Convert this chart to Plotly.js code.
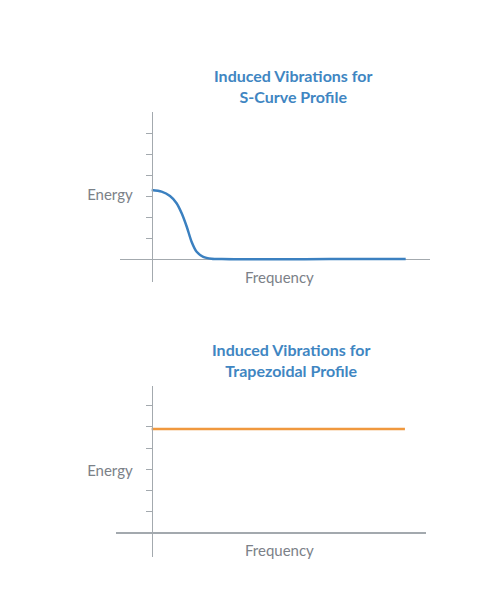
<!DOCTYPE html>
<html>
<head>
<meta charset="utf-8">
<script src="https://cdn.plot.ly/plotly-3.0.1.min.js"></script>
<style>
  html, body { margin: 0; padding: 0; background: #fff; }
  #chart { width: 500px; height: 595px; }
</style>
</head>
<body>
<div id="chart"></div>
<script>
// values
const sCurveFreq = [0, 0.39, 0.72, 0.98, 1.18, 1.38, 1.57, 1.77, 2.03, 2.36, 2.76, 3.5, 5, 7, 9, 10];
const sCurveEnergy = [3.30, 3.22, 3.01, 2.67, 2.19, 1.55, 0.84, 0.36, 0.12, 0.03, 0.01, 0, 0, 0.01, 0.02, 0.02];
const trapFreq = [0, 10];
const trapEnergy = [4.9, 4.9];
const energyTicks = [1, 2, 3, 4, 5, 6];
const energyLabels = ["", "", "Energy", "", "", ""];
const titles = ["Induced Vibrations for<br>S-Curve Profile", "Induced Vibrations for<br>Trapezoidal Profile"];

const W = 500, H = 595;
const px = v => v / W;
const py = v => 1 - v / H;

const axisGrey = "#a3a9ae";
const textGrey = "#7b8188";
const titleBlue = "#3f86c2";
const font = "Lato, 'Open Sans', sans-serif";

function yAxis(domain, range, shift) {
    return {
        domain: domain,
        range: range,
        anchor: "free",
        position: px(151.7),
        showline: true,
        linecolor: axisGrey,
        linewidth: 1.5,
        ticks: "outside",
        ticklen: 6,
        tickwidth: 1,
        tickcolor: axisGrey,
        tickvals: energyTicks,
        ticktext: energyLabels,
        tickfont: { family: font, size: 15, color: textGrey },
        ticklabelstandoff: 10,
        ticklabelshift: shift,
        showgrid: false,
        zeroline: true,
        zerolinecolor: axisGrey,
        zerolinewidth: 1.5,
        fixedrange: true
    };
}

function xAxis(domain, range, yname) {
    return {
        domain: domain,
        range: range,
        anchor: yname,
        showline: false,
        showgrid: false,
        zeroline: false,
        showticklabels: false,
        ticks: "",
        fixedrange: true
    };
}

const traces = [
    {
        x: sCurveFreq,
        y: sCurveEnergy,
        type: "scatter",
        mode: "lines",
        line: { color: "#3b80c0", width: 2.5, shape: "spline", smoothing: 0.8 },
        xaxis: "x",
        yaxis: "y",
        hoverinfo: "skip"
    },
    {
        x: trapFreq,
        y: trapEnergy,
        type: "scatter",
        mode: "lines",
        line: { color: "#f0983e", width: 2.5 },
        xaxis: "x2",
        yaxis: "y2",
        hoverinfo: "skip"
    }
];

function label(text, x, y, size, color, bold) {
    return {
        text: bold ? "<b>" + text + "</b>" : text,
        xref: "paper", yref: "paper",
        x: px(x), y: py(y),
        xanchor: "center", yanchor: "middle",
        showarrow: false,
        align: "center",
        font: { family: font, size: size, color: color }
    };
}

const layout = {
    width: W,
    height: H,
    margin: { l: 0, r: 0, t: 0, b: 0 },
    paper_bgcolor: "#fff",
    plot_bgcolor: "rgba(0,0,0,0)",
    showlegend: false,
    xaxis: xAxis([px(120), px(430)], [-1.248, 10.957], "y"),
    yaxis: yAxis([py(281.7), py(111.7)], [-1.067, 7.029], -2),
    xaxis2: xAxis([px(115.7), px(425.7)], [-1.417, 10.82], "y2"),
    yaxis2: yAxis([py(556.7), py(386)], [-1.123, 6.929], 1),
    annotations: [
        label(titles[0], 293, 86, 16, titleBlue, true),
        label(titles[1], 291, 360, 16, titleBlue, true),
        label("Frequency", 279, 277, 15, textGrey, false),
        label("Frequency", 279, 550, 15, textGrey, false)
    ]
};

Plotly.newPlot("chart", traces, layout, { staticPlot: true, displayModeBar: false });
</script>
</body>
</html>
